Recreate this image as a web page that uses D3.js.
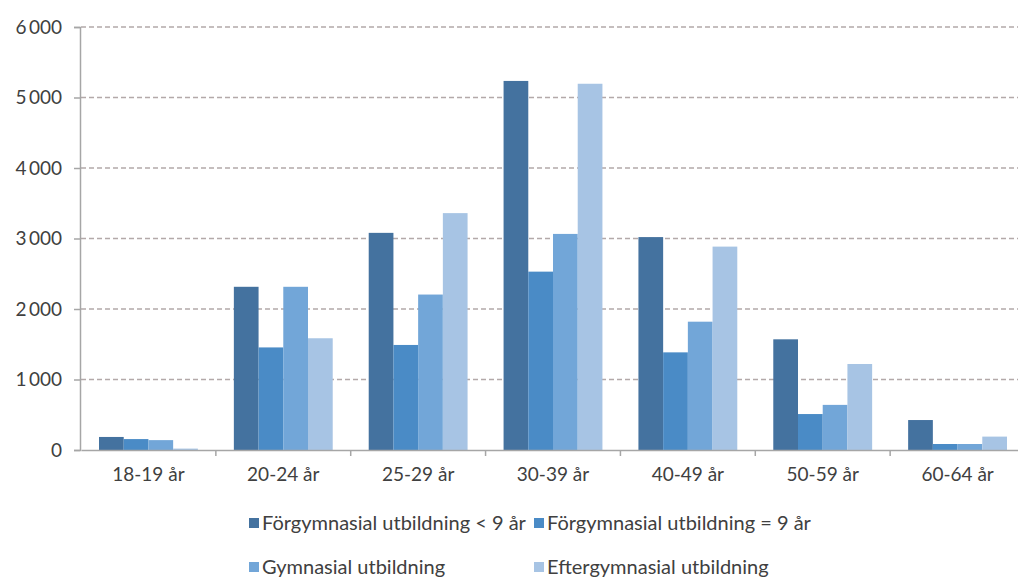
<!DOCTYPE html>
<html>
<head>
<meta charset="utf-8">
<script src="https://cdn.jsdelivr.net/npm/d3@7"></script>
<style>
  body { margin: 0; background: #fff; }
  svg { display: block; font-family: Lato, "Open Sans", sans-serif; }
</style>
</head>
<body>
<svg id="chart" width="1018" height="581"></svg>
<script>
// data
var categories = ["18-19 år", "20-24 år", "25-29 år", "30-39 år", "40-49 år", "50-59 år", "60-64 år"];
var seriesNames = ["Förgymnasial utbildning < 9 år", "Förgymnasial utbildning = 9 år",
                   "Gymnasial utbildning", "Eftergymnasial utbildning"];
var lessThan9 = [185, 2315, 3080, 5235, 3020, 1570, 425];
var equal9    = [155, 1455, 1490, 2530, 1385, 510, 85];
var gymnasial = [140, 2315, 2205, 3065, 1820, 640, 85];
var efter     = [20, 1585, 3360, 5195, 2885, 1220, 190];
var yTicks = [0, 1000, 2000, 3000, 4000, 5000, 6000];
var colors = ["#44729f", "#4a8bc6", "#72a6d8", "#a7c4e4"];

function drawChart() {
    var allSeries = [lessThan9, equal9, gymnasial, efter];

    var svg = d3.select("#chart");
    var mLeft = 81, mRight = 1025, mTop = 27, mBottom = 450;
    var fontSize = "19px";

    var sv = d3.formatLocale({decimal: ",", thousands: "\u2009", grouping: [3], currency: ["", " kr"]});
    var fmt = sv.format(",d");

    var x0 = d3.scaleBand().domain(categories).range([mLeft, mRight]);
    var x1 = d3.scaleBand().domain(d3.range(4)).range([18, x0.bandwidth() - 18]);
    var y = d3.scaleLinear().domain([0, 6000]).range([mBottom, mTop]);

    // gridlines
    svg.append("g").selectAll("line")
       .data(yTicks.filter(function(d) { return d > 0; }))
       .enter().append("line")
       .attr("x1", mLeft).attr("x2", 1018)
       .attr("y1", function(d) { return y(d); })
       .attr("y2", function(d) { return y(d); })
       .attr("stroke", "#b3a9a9")
       .attr("stroke-width", 1.3)
       .attr("stroke-dasharray", "5,3");

    // bars
    var groups = svg.append("g").selectAll("g")
       .data(categories)
       .enter().append("g")
       .attr("transform", function(d) { return "translate(" + x0(d) + ",0)"; });

    groups.selectAll("rect")
       .data(function(d, i) { return allSeries.map(function(s, k) { return {k: k, v: s[i]}; }); })
       .enter().append("rect")
       .attr("x", function(d) { return x1(d.k); })
       .attr("width", x1.bandwidth())
       .attr("y", function(d) { return y(d.v); })
       .attr("height", function(d) { return mBottom - y(d.v); })
       .attr("fill", function(d) { return colors[d.k]; });

    // y axis
    var yAxis = svg.append("g")
       .attr("transform", "translate(" + (mLeft - 1) + ",0)")
       .call(d3.axisLeft(y).tickValues(yTicks).tickFormat(fmt).tickSize(6).tickPadding(12));
    yAxis.select(".domain").attr("stroke", "#a6a6a6").attr("stroke-width", 1.5);
    yAxis.selectAll(".tick line").attr("stroke", "#a6a6a6").attr("stroke-width", 1.5);
    yAxis.selectAll("text").attr("fill", "#404040").style("font-size", fontSize).style("font-family", "Lato, sans-serif");

    // x axis
    var xAxis = svg.append("g")
       .attr("transform", "translate(0," + mBottom + ")")
       .call(d3.axisBottom(x0).tickSize(0).tickPadding(18));
    xAxis.select(".domain").attr("stroke", "#a6a6a6").attr("stroke-width", 1.5);
    xAxis.selectAll("text").attr("fill", "#404040").style("font-size", fontSize).style("font-family", "Lato, sans-serif");

    // separator ticks between categories
    svg.append("g").selectAll("line")
       .data(categories.slice(1))
       .enter().append("line")
       .attr("x1", function(d) { return x0(d); })
       .attr("x2", function(d) { return x0(d); })
       .attr("y1", mBottom).attr("y2", mBottom + 6)
       .attr("stroke", "#a6a6a6").attr("stroke-width", 1.5);

    // legend
    var legendPos = [[249, 523], [534, 523], [249, 567], [534, 567]];
    var legend = svg.append("g").selectAll("g")
       .data(seriesNames)
       .enter().append("g")
       .attr("transform", function(d, i) { return "translate(" + legendPos[i][0] + "," + legendPos[i][1] + ")"; });
    legend.append("rect")
       .attr("x", 0).attr("y", -5).attr("width", 10).attr("height", 10)
       .attr("fill", function(d, i) { return colors[i]; });
    legend.append("text")
       .attr("x", 13).attr("dy", "0.35em")
       .attr("fill", "#404040")
       .style("font-size", "20px")
       .text(function(d) { return d; });
}

drawChart();
</script>
</body>
</html>
